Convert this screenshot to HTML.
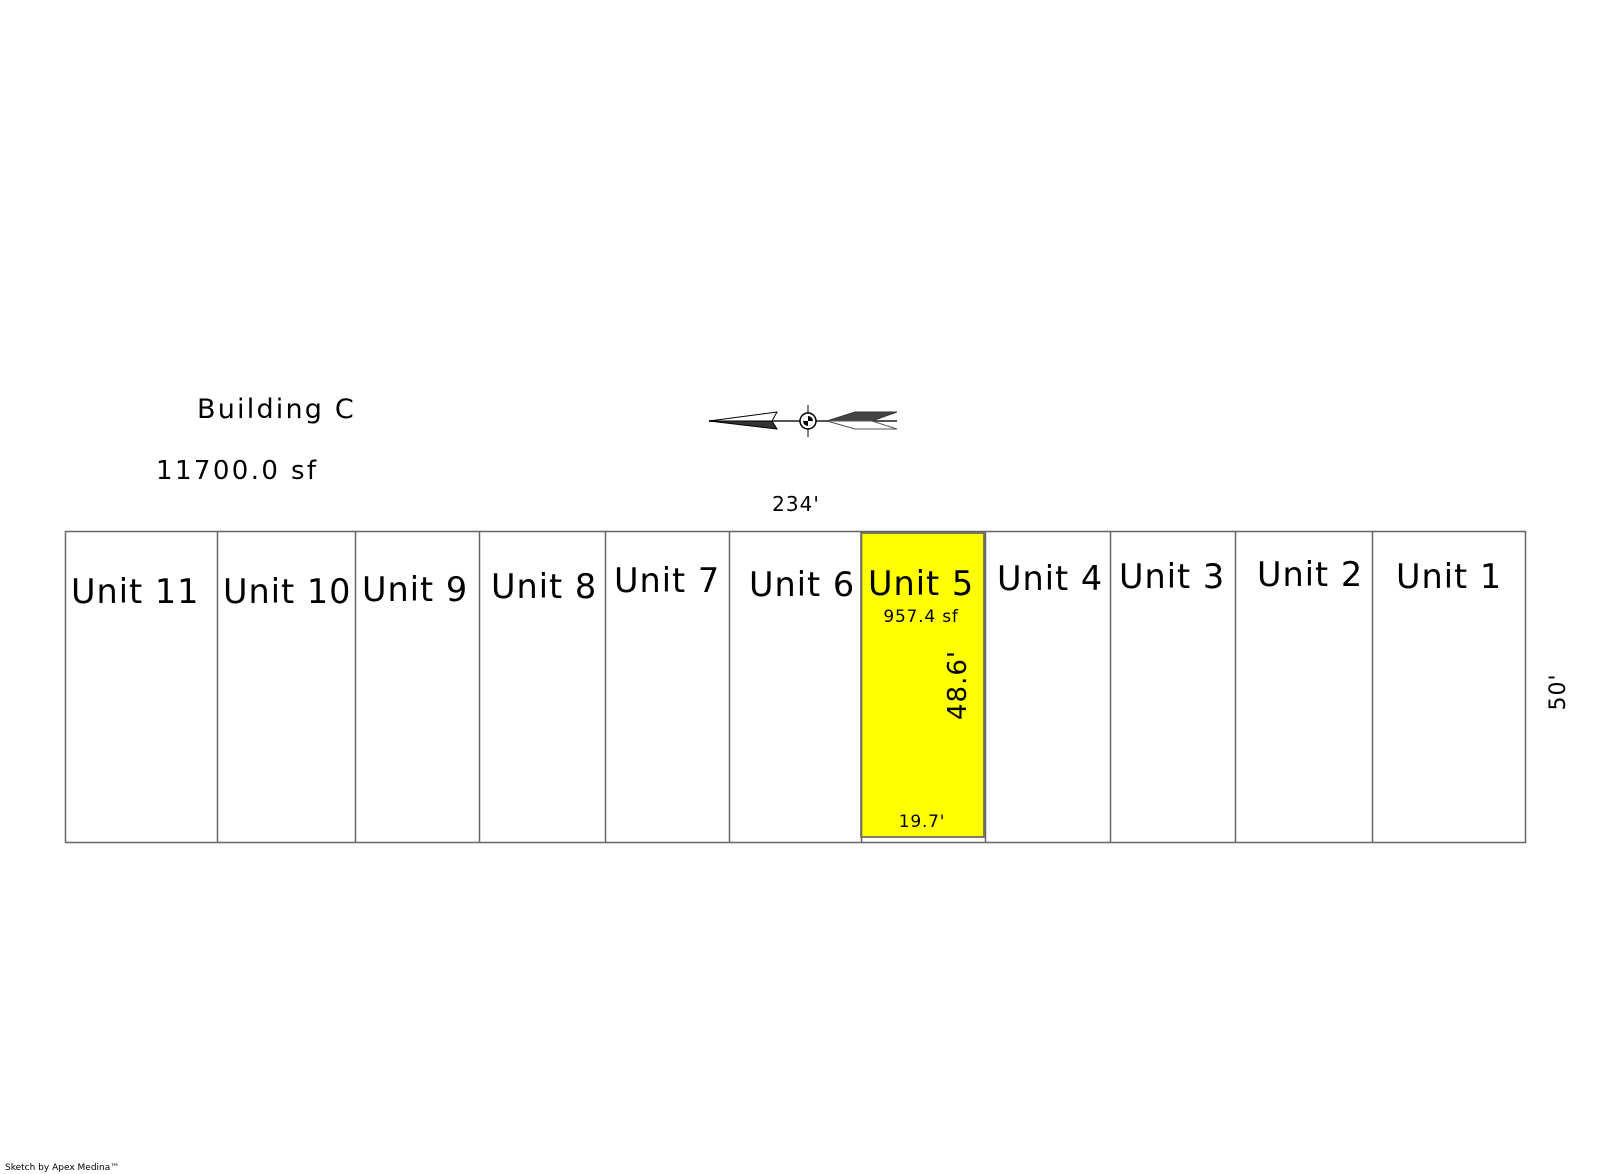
<!DOCTYPE html>
<html><head><style>
body{margin:0;background:#fff;}
svg{display:block;font-family:"DejaVu Sans","Liberation Sans",sans-serif;}
</style></head><body>
<svg width="1600" height="1174" viewBox="0 0 1600 1174" xmlns="http://www.w3.org/2000/svg">
<rect x="861" y="533" width="123" height="304" fill="#ffff00" stroke="#555" stroke-width="1.5"/>
<rect x="65.5" y="531.5" width="1460" height="311" fill="none" stroke="#666" stroke-width="1.5"/>
<g stroke="#666" stroke-width="1.5">
<line x1="217.5" y1="531" x2="217.5" y2="842"/>
<line x1="355.5" y1="531" x2="355.5" y2="842"/>
<line x1="479.5" y1="531" x2="479.5" y2="842"/>
<line x1="605.5" y1="531" x2="605.5" y2="842"/>
<line x1="729.5" y1="531" x2="729.5" y2="842"/>
<line x1="861.5" y1="531" x2="861.5" y2="842"/>
<line x1="985.5" y1="531" x2="985.5" y2="842"/>
<line x1="1110.5" y1="531" x2="1110.5" y2="842"/>
<line x1="1235.5" y1="531" x2="1235.5" y2="842"/>
<line x1="1372.5" y1="531" x2="1372.5" y2="842"/>
</g>
<g font-size="33.5" fill="#000" letter-spacing="1">
<text x="71" y="603">Unit 11</text>
<text x="223" y="603">Unit 10</text>
<text x="362" y="601">Unit 9</text>
<text x="491" y="598">Unit 8</text>
<text x="614" y="592">Unit 7</text>
<text x="749" y="596">Unit 6</text>
<text x="868" y="595">Unit 5</text>
<text x="997" y="590">Unit 4</text>
<text x="1119" y="588">Unit 3</text>
<text x="1257" y="586">Unit 2</text>
<text x="1396" y="588">Unit 1</text>
</g>
<text x="197" y="418" font-size="27" letter-spacing="2.2">Building C</text>
<text x="156" y="479" font-size="26" letter-spacing="2.4">11700.0 sf</text>
<text x="796" y="511" font-size="20" letter-spacing="1" text-anchor="middle">234'</text>
<text x="921" y="622" font-size="17" letter-spacing="0.8" text-anchor="middle">957.4 sf</text>
<text x="922" y="827" font-size="17" letter-spacing="0.8" text-anchor="middle">19.7'</text>
<text transform="translate(966,685) rotate(-90)" font-size="26" letter-spacing="1" text-anchor="middle">48.6'</text>
<text transform="translate(1565,692) rotate(-90)" font-size="22" letter-spacing="1" text-anchor="middle">50'</text>
<text x="5" y="1170" font-size="9">Sketch by Apex Medina™</text>
<g>
<line x1="709" y1="421" x2="897" y2="421" stroke="#555" stroke-width="2"/>
<polygon points="709,421 777,412 772,421" fill="#fff" stroke="#000" stroke-width="1"/>
<polygon points="709,421 772,421 777,429" fill="#333" stroke="#000" stroke-width="1"/>
<polygon points="827,421 855,412 897,412 872,421" fill="#444" stroke="#333" stroke-width="1"/>
<polygon points="827,421 872,421 897,429 855,429" fill="#fff" stroke="#555" stroke-width="1"/>
<line x1="808" y1="405" x2="808" y2="437" stroke="#000" stroke-width="1"/>
<circle cx="808" cy="421" r="8" fill="#fff" stroke="#000" stroke-width="1.5"/>
<circle cx="808" cy="421" r="5" fill="#000"/>
<path d="M808,421 L813,421 A5,5 0 0 1 808,426 Z" fill="#fff"/>
<path d="M808,421 L803,421 A5,5 0 0 1 808,416 Z" fill="#fff"/>
</g>
</svg>
</body></html>
